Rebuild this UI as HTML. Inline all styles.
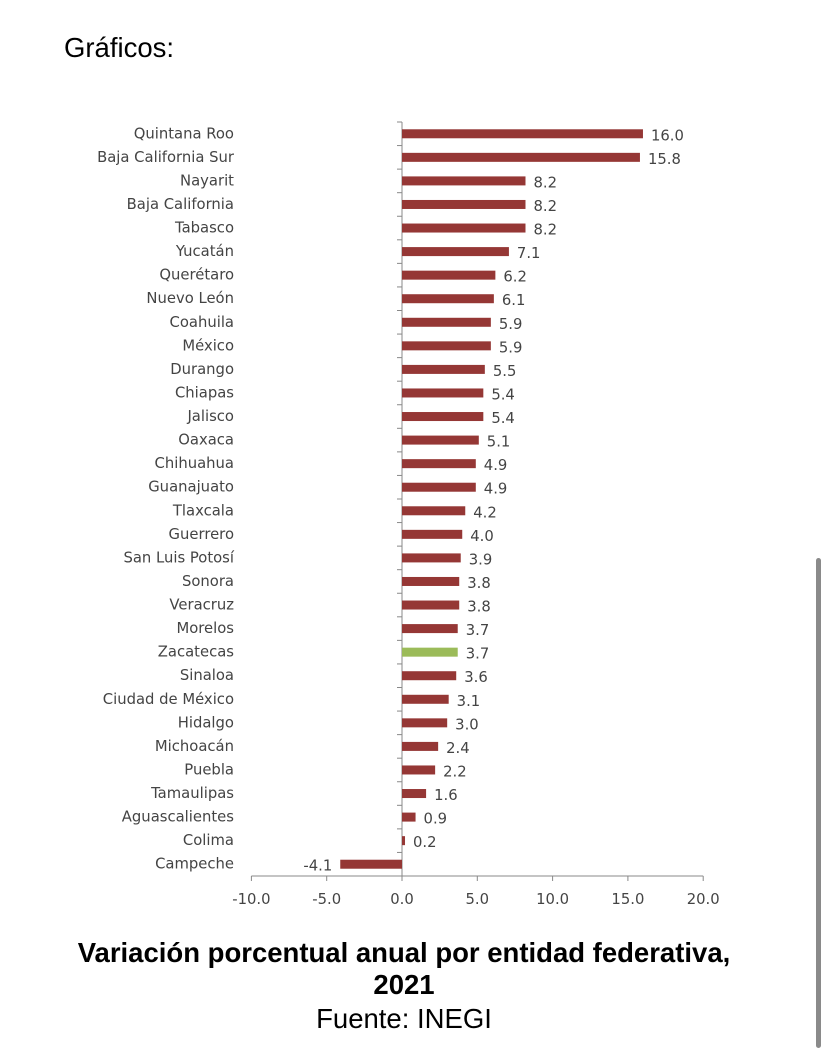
<!DOCTYPE html>
<html><head><meta charset="utf-8"><style>
body{margin:0;width:829px;height:1053px;background:#fff;position:relative;overflow:hidden;font-family:"Liberation Sans",sans-serif}
#hdr{position:absolute;left:64px;top:32px;font-size:27.5px;color:#000}
#title{position:absolute;left:0;width:808px;top:937px;text-align:center;font-weight:bold;font-size:27.5px;line-height:32px;color:#000}
#src{position:absolute;left:0;width:808px;top:1003px;text-align:center;font-size:27.5px;color:#000}
#scroll{position:absolute;left:816px;top:558px;width:5px;height:490px;background:#8a8a8a;border-radius:3px}
svg text{font-family:"DejaVu Sans","Liberation Sans",sans-serif;font-size:14.8px;fill:#444}
</style></head><body>
<div id="hdr">Gráficos:</div>
<svg id="chart" width="829" height="1053" style="position:absolute;left:0;top:0"></svg>
<div id="title">Variación porcentual anual por entidad federativa,<br>2021</div>
<div id="src">Fuente: INEGI</div>
<div id="scroll"></div>
<script>
const categories=["Quintana Roo","Baja California Sur","Nayarit","Baja California","Tabasco","Yucatán","Querétaro","Nuevo León","Coahuila","México","Durango","Chiapas","Jalisco","Oaxaca","Chihuahua","Guanajuato","Tlaxcala","Guerrero","San Luis Potosí","Sonora","Veracruz","Morelos","Zacatecas","Sinaloa","Ciudad de México","Hidalgo","Michoacán","Puebla","Tamaulipas","Aguascalientes","Colima","Campeche"];
const values=[16.0,15.8,8.2,8.2,8.2,7.1,6.2,6.1,5.9,5.9,5.5,5.4,5.4,5.1,4.9,4.9,4.2,4.0,3.9,3.8,3.8,3.7,3.7,3.6,3.1,3.0,2.4,2.2,1.6,0.9,0.2,-4.1];
const highlight=["Zacatecas"];
const ticks=[-10,-5,0,5,10,15,20];
const NS="http://www.w3.org/2000/svg",svg=document.getElementById('chart');
const x=v=>402+(v)*15.06;
const top0=122,band=(876-122)/categories.length;
const y=i=>top0+band*i+band/2;
function mk(t,a){const e=document.createElementNS(NS,t);for(const k in a)e.setAttribute(k,a[k]);svg.appendChild(e);return e;}
let e=mk('line',{x1:x(-10),x2:x(20),y1:876,y2:876,stroke:'#888','stroke-width':1});


e=mk('line',{x1:x(0),x2:x(0),y1:top0,y2:876,stroke:'#888','stroke-width':1});


for(let i=0;i<=categories.length;i++){mk('line',{x1:x(0)-5,x2:x(0),y1:top0+band*i,y2:top0+band*i,stroke:'#888'});}
ticks.forEach(t=>{
 mk('line',{x1:x(t),x2:x(t),y1:876,y2:881,stroke:'#888'});
 const tx=mk('text',{x:x(t),y:904,'text-anchor':'middle'});tx.textContent=t.toFixed(1);
 
 
});
categories.forEach((c,i)=>{
 const v=values[i];
 const r=mk('rect',{x:Math.min(x(0),x(v)),y:y(i)-4.5,width:Math.max(Math.abs(x(v)-x(0)),2),height:9,fill:highlight.includes(c)?'#9bbb59':'#953735'});
 
 
 const l=mk('text',{x:234,y:y(i)+4.5,'text-anchor':'end'});l.textContent=c;
 
 
 const vl=mk('text',{x:v>=0?x(Math.max(v,0))+8:x(v)-8,y:y(i)+6.5,'text-anchor':v>=0?'start':'end'});vl.textContent=v.toFixed(1);
 
 
});
</script>
</body></html>
